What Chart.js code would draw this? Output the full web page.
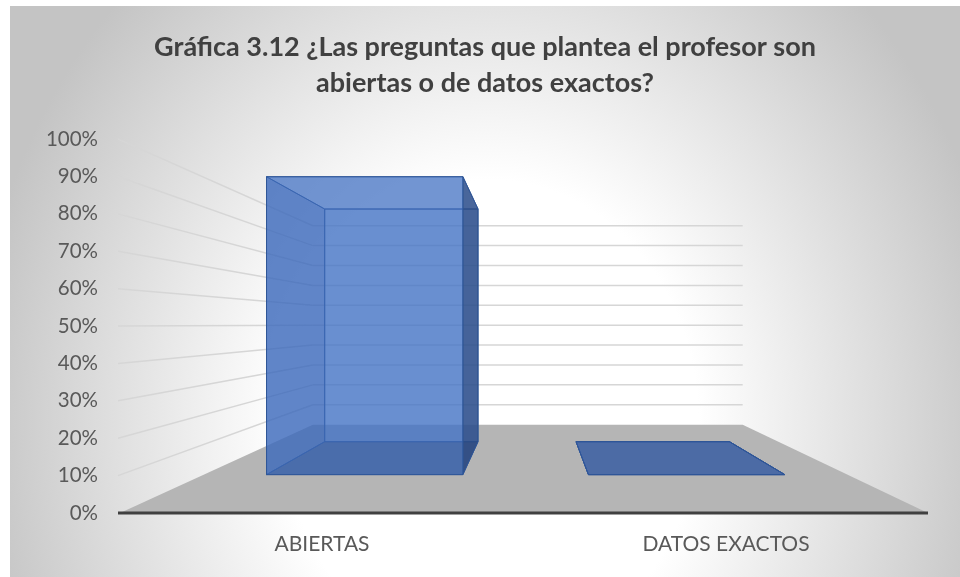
<!DOCTYPE html>
<html lang="es">
<head>
    <meta charset="UTF-8">
    <title>Gráfica 3.12</title>
    <script src="https://cdn.jsdelivr.net/npm/chart.js"></script>
    <style>
        body {
            margin: 0;
            background: #ffffff;
        }

        #wrap {
            position: absolute;
            left: 10px;
            top: 6px;
            width: 950px;
            height: 571px;
            background: radial-gradient(ellipse 520px 600px at 480px 414px, #ffffff 0%, #ffffff 40%, #c4c4c4 100%);
        }
    </style>
</head>
<body>
    <div id="wrap">
        <canvas id="chart"></canvas>
    </div>
    <script>
        const titleLines = ['Gráfica 3.12 ¿Las preguntas que plantea el profesor son', 'abiertas o de datos exactos?'];
        const categories = ['ABIERTAS', 'DATOS EXACTOS'];
        const values = [1.00, 0.00];
        const yTicks = [0, 0.1, 0.2, 0.3, 0.4, 0.5, 0.6, 0.7, 0.8, 0.9, 1.0];

        const FONT = 'Lato, "Open Sans", sans-serif';

        // fake 3D: the chart area is the front plane, everything else is pushed back in perspective
        const view3d = {
            id: 'view3d',
            beforeDatasetsDraw(chart) {
                const { ctx, chartArea: a, scales: { y } } = chart;
                const fl = a.left, fr = a.right;
                const vx = fl + 0.51 * (fr - fl);
                const vy = y.getPixelForValue(0.505);
                const k = 1 / 0.532 - 1;
                const P = (X, v, z) => {
                    const s = 1 / (1 + k * z);
                    return [vx + (X - vx) * s, vy + (y.getPixelForValue(v) - vy) * s];
                };
                const poly = (pts, fill, stroke) => {
                    ctx.beginPath();
                    pts.forEach((p, i) => i ? ctx.lineTo(p[0], p[1]) : ctx.moveTo(p[0], p[1]));
                    ctx.closePath();
                    if (fill) { ctx.fillStyle = fill; ctx.fill(); }
                    if (stroke) { ctx.strokeStyle = stroke; ctx.lineWidth = 1; ctx.stroke(); }
                };
                const line = (p, q, color, w) => {
                    ctx.beginPath();
                    ctx.moveTo(p[0], p[1]);
                    ctx.lineTo(q[0], q[1]);
                    ctx.strokeStyle = color;
                    ctx.lineWidth = w;
                    ctx.stroke();
                };

                ctx.save();
                // floor
                poly([P(fl, 0, 0), P(fr, 0, 0), P(fr, 0, 1), P(fl, 0, 1)], '#b5b5b5');
                // side wall + back wall gridlines
                yTicks.forEach(v => {
                    if (v === 0) return;
                    line(P(fl - 2, v, 0), P(fl, v, 1), '#d6d6d6', 1.5);
                    line(P(fl, v, 1), P(fr, v, 1), '#d6d6d6', 1.5);
                });

                // bars as see-through boxes
                const z1 = 0.29, z2 = 0.69;
                const edge = 'rgba(47, 85, 151, 0.9)';
                chart.getDatasetMeta(0).data.forEach((el, i) => {
                    const X0 = el.x - el.width / 2, X1 = el.x + el.width / 2, v = values[i];
                    poly([P(X0, 0, z2), P(X1, 0, z2), P(X1, v, z2), P(X0, v, z2)], 'rgba(68, 114, 196, 0.55)', edge);
                    poly([P(X0, 0, z1), P(X0, 0, z2), P(X0, v, z2), P(X0, v, z1)], 'rgba(50, 90, 170, 0.6)', edge);
                    poly([P(X0, 0, z1), P(X1, 0, z1), P(X1, 0, z2), P(X0, 0, z2)], 'rgba(30, 60, 120, 0.65)', edge);
                    poly([P(X0, v, z1), P(X1, v, z1), P(X1, v, z2), P(X0, v, z2)], 'rgba(68, 114, 196, 0.45)', edge);
                    poly([P(X1, 0, z1), P(X1, 0, z2), P(X1, v, z2), P(X1, v, z1)], 'rgba(41, 74, 131, 0.75)', edge);
                    poly([P(X0, 0, z1), P(X1, 0, z1), P(X1, v, z1), P(X0, v, z1)], 'rgba(68, 114, 196, 0.55)', edge);
                });

                // front axis line
                line(P(fl - 2, 0, 0), P(fr, 0, 0), '#404040', 3);
                ctx.restore();
                return false;
            }
        };

        new Chart(document.getElementById('chart'), {
            type: 'bar',
            data: {
                labels: categories,
                datasets: [{
                    data: values,
                    backgroundColor: '#4472c4',
                    barPercentage: 0.61,
                    categoryPercentage: 1
                }]
            },
            options: {
                responsive: true,
                maintainAspectRatio: false,
                animation: false,
                layout: { padding: { top: 0, right: 0, bottom: 17, left: 0 } },
                plugins: {
                    legend: { display: false },
                    tooltip: { enabled: false },
                    title: {
                        display: true,
                        text: titleLines,
                        color: '#404040',
                        font: { family: FONT, size: 27, weight: 'bold', lineHeight: 1.35 },
                        padding: { top: 22.8, bottom: 37.4 }
                    }
                },
                scales: {
                    x: {
                        grid: { display: false, drawTicks: false },
                        border: { display: false },
                        ticks: { color: '#595959', font: { family: FONT, size: 21 }, padding: 19 },
                        afterFit(s) { s.height = 47; }
                    },
                    y: {
                        min: 0,
                        max: 1,
                        grid: { display: false, drawTicks: false },
                        border: { display: false },
                        afterBuildTicks(s) { s.ticks = yTicks.map(v => ({ value: v })); },
                        ticks: {
                            color: '#595959',
                            font: { family: FONT, size: 20.5 },
                            padding: 22,
                            callback: v => Math.round(v * 100) + '%'
                        },
                        afterFit(s) { s.width = 110; }
                    },
                    // empty right gutter so the title stays centred on the whole chart
                    gutter: {
                        position: 'right',
                        grid: { display: false, drawTicks: false },
                        border: { display: false },
                        ticks: { display: false },
                        afterFit(s) { s.width = 32; }
                    }
                }
            },
            plugins: [view3d]
        });
    </script>
</body>
</html>
